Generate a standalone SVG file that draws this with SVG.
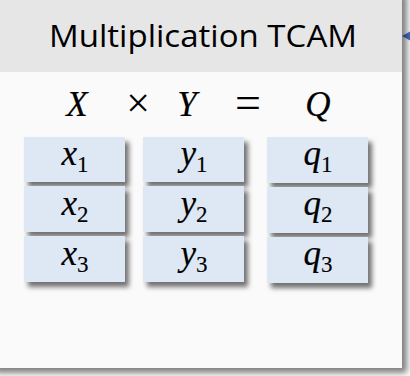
<svg xmlns="http://www.w3.org/2000/svg" width="410" height="376" viewBox="0 0 410 376">
<style>
.title{font-family:"Open Sans","Liberation Sans",sans-serif;font-size:31px;fill:#000}
.m{font-family:"Liberation Serif","DejaVu Serif",serif;font-style:italic;font-size:35px;fill:#000;stroke:#000;stroke-width:0.2}
.op{font-family:"Liberation Serif","DejaVu Serif",serif;font-style:normal;fill:#000}
.v{font-family:"Liberation Serif","DejaVu Serif",serif;font-style:italic;font-size:35px;fill:#000;stroke:#000;stroke-width:0.2}
.s{font-style:normal;font-size:23px;stroke-width:0.15}
.cell{fill:#dee8f5}
</style>
<defs>
<filter id="sh" x="-10%" y="-10%" width="130%" height="140%">
<feDropShadow dx="4" dy="5" stdDeviation="2.5" flood-color="#000" flood-opacity="0.55"/>
</filter>
<filter id="psh" x="-10%" y="-10%" width="130%" height="130%">
<feDropShadow dx="5" dy="5" stdDeviation="3" flood-color="#000" flood-opacity="0.5"/>
</filter>
</defs>
<g id="connectors">
<line x1="430" y1="36" x2="410" y2="36" stroke="#4472c4" stroke-width="2"/>
<path d="M402,36 L411,31 L411,41 z" fill="#4472c4"/>
</g>
<g id="panel">
<rect x="-10" y="-10" width="412" height="378" fill="#fafafa" filter="url(#psh)"/>
<rect x="-10" y="-10" width="412" height="82" fill="#e7e6e6"/>
<text class="title" x="203" y="47" text-anchor="middle" textLength="308" lengthAdjust="spacingAndGlyphs">Multiplication TCAM</text>
<text class="m" x="77" y="116" text-anchor="middle">X</text>
<text class="op" x="138" y="117" text-anchor="middle" font-size="42">×</text>
<text class="m" x="187" y="116" text-anchor="middle">Y</text>
<text class="op" x="248" y="118" text-anchor="middle" font-size="46">=</text>
<text class="m" x="318" y="116" text-anchor="middle">Q</text>
</g>
<g id="x1"><rect class="cell" x="24" y="137" width="101" height="45" filter="url(#sh)"/><text class="v" x="75" y="165" text-anchor="middle">x<tspan class="s" dy="7">1</tspan></text></g>
<g id="x2"><rect class="cell" x="24" y="186" width="101" height="46" filter="url(#sh)"/><text class="v" x="75" y="215" text-anchor="middle">x<tspan class="s" dy="7">2</tspan></text></g>
<g id="x3"><rect class="cell" x="24" y="236" width="101" height="46" filter="url(#sh)"/><text class="v" x="75" y="265" text-anchor="middle">x<tspan class="s" dy="7">3</tspan></text></g>
<g id="y1"><rect class="cell" x="143" y="137" width="101" height="45" filter="url(#sh)"/><text class="v" x="194" y="165" text-anchor="middle">y<tspan class="s" dy="7">1</tspan></text></g>
<g id="y2"><rect class="cell" x="143" y="186" width="101" height="46" filter="url(#sh)"/><text class="v" x="194" y="215" text-anchor="middle">y<tspan class="s" dy="7">2</tspan></text></g>
<g id="y3"><rect class="cell" x="143" y="236" width="101" height="46" filter="url(#sh)"/><text class="v" x="194" y="265" text-anchor="middle">y<tspan class="s" dy="7">3</tspan></text></g>
<g id="q1"><rect class="cell" x="267" y="137" width="101" height="46" filter="url(#sh)"/><text class="v" x="318" y="165" text-anchor="middle">q<tspan class="s" dy="7">1</tspan></text></g>
<g id="q2"><rect class="cell" x="267" y="187" width="101" height="46" filter="url(#sh)"/><text class="v" x="318" y="215" text-anchor="middle">q<tspan class="s" dy="7">2</tspan></text></g>
<g id="q3"><rect class="cell" x="267" y="237" width="101" height="46" filter="url(#sh)"/><text class="v" x="318" y="265" text-anchor="middle">q<tspan class="s" dy="7">3</tspan></text></g>
</svg>
